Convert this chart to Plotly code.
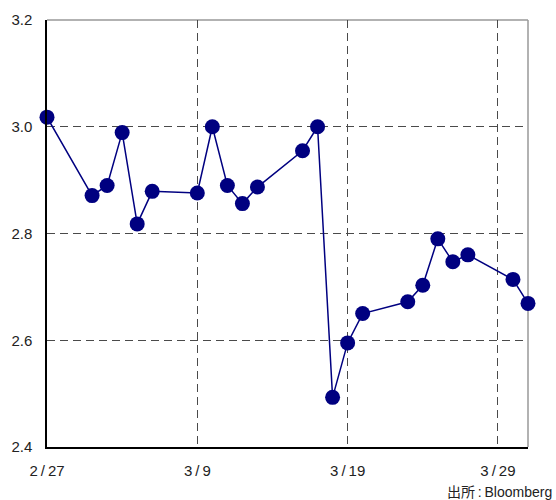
import plotly.graph_objects as go

# Daily closing values, 27 Feb - 31 Mar 2015 (trading days only)
dates = [
    "2015-02-27", "2015-03-02", "2015-03-03", "2015-03-04", "2015-03-05",
    "2015-03-06", "2015-03-09", "2015-03-10", "2015-03-11", "2015-03-12",
    "2015-03-13", "2015-03-16", "2015-03-17", "2015-03-18", "2015-03-19",
    "2015-03-20", "2015-03-23", "2015-03-24", "2015-03-25", "2015-03-26",
    "2015-03-27", "2015-03-30", "2015-03-31",
]
values = [
    3.018, 2.871, 2.890, 2.989, 2.818,
    2.879, 2.876, 3.000, 2.890, 2.856,
    2.887, 2.955, 3.000, 2.493, 2.595,
    2.650, 2.672, 2.703, 2.790, 2.747,
    2.760, 2.714, 2.669,
]

x_tick_vals = ["2015-02-27", "2015-03-09", "2015-03-19", "2015-03-29"]
x_tick_text = ["2\u2009/\u200927", "3\u2009/\u20099", "3\u2009/\u200919", "3\u2009/\u200929"]
y_tick_vals = [2.4, 2.6, 2.8, 3.0, 3.2]
y_tick_text = ["2.4", "2.6", "2.8", "3.0", "3.2"]
source_text = "出所\u2009:\u2009Bloomberg"

navy = "#000080"
grid_color = "#4a4a4a"
font_family = "Liberation Sans, Arial, Noto Sans CJK JP, sans-serif"

fig = go.Figure(
    go.Scatter(
        x=dates,
        y=values,
        mode="lines+markers",
        line=dict(color=navy, width=1.5),
        marker=dict(color=navy, size=15),
        cliponaxis=False,
        hoverinfo="x+y",
    )
)

fig.update_layout(
    width=556,
    height=500,
    margin=dict(l=47, r=28, t=20, b=53),
    paper_bgcolor="white",
    plot_bgcolor="white",
    showlegend=False,
    font=dict(family=font_family, size=15, color="#222222"),
    xaxis=dict(
        type="date",
        range=["2015-02-27", "2015-03-31"],
        tickvals=x_tick_vals,
        ticktext=x_tick_text,
        showgrid=True,
        gridcolor=grid_color,
        gridwidth=1,
        griddash="8px,5px",
        showline=True,
        linecolor="black",
        linewidth=1.5,
        ticks="",
        ticklabelstandoff=9,
        zeroline=False,
        automargin=False,
        fixedrange=True,
    ),
    yaxis=dict(
        range=[2.4, 3.2],
        tickvals=y_tick_vals,
        ticktext=y_tick_text,
        showgrid=True,
        gridcolor=grid_color,
        gridwidth=1,
        griddash="8px,5px",
        showline=True,
        linecolor="black",
        linewidth=1.5,
        ticks="",
        ticklabelstandoff=10,
        zeroline=False,
        automargin=False,
        fixedrange=True,
    ),
    shapes=[
        dict(type="line", xref="paper", yref="paper", x0=0, x1=1, y0=1, y1=1,
             line=dict(color="#999999", width=1.5), layer="below"),
        dict(type="line", xref="paper", yref="paper", x0=1, x1=1, y0=0, y1=1,
             line=dict(color="#999999", width=1.5), layer="below"),
    ],
    annotations=[
        dict(text=source_text, xref="paper", yref="paper", x=0.828, y=-0.106,
             xanchor="left", yanchor="middle", showarrow=False,
             font=dict(size=14, color="#222222")),
    ],
)

fig.write_html("out.html")
